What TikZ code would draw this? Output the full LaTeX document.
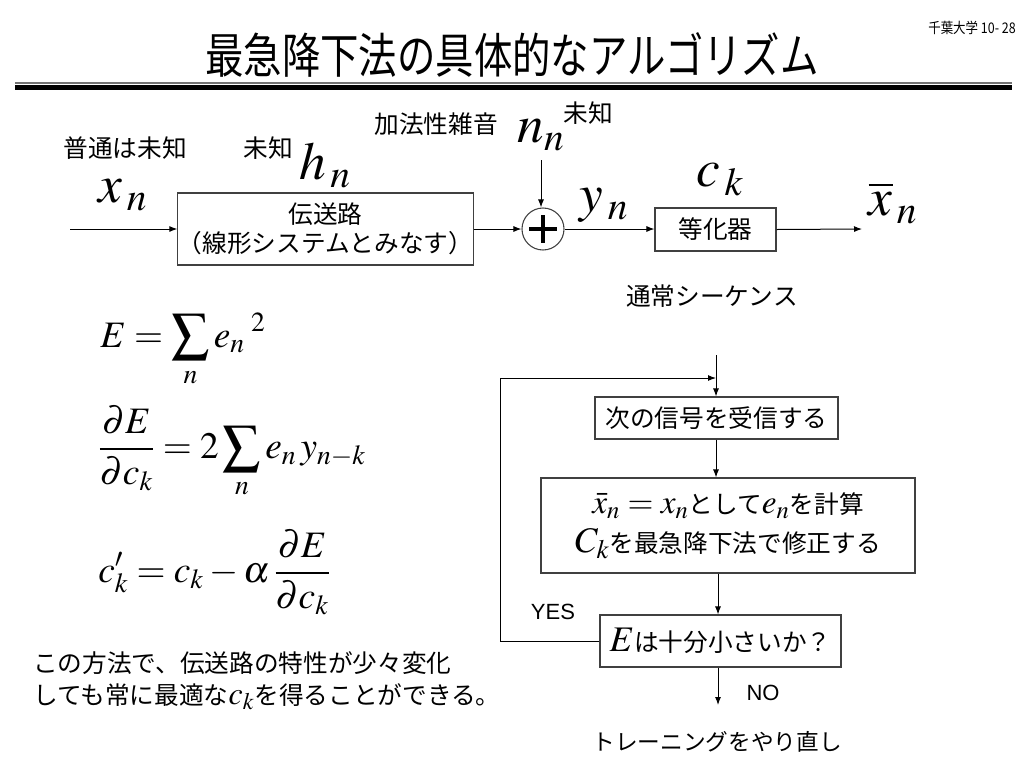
\documentclass[tikz,border=0pt]{standalone}
\usepackage{mathptmx}
\usepackage{fontspec}
\setmainfont{Liberation Sans}
\newfontfamily\jpf{Noto Sans CJK JP}
\usetikzlibrary{arrows.meta}
\newcommand\mymath[2]{{\fontsize{#1}{#1}\selectfont$#2$}}
\tikzset{
  jp/.style={font=\jpf\fontsize{18.5}{22}\selectfont, inner sep=0pt},
  bigm/.style={font=\fontsize{40}{48}\selectfont, inner sep=0pt},
  eqn/.style={font=\fontsize{28}{34}\selectfont, inner sep=0pt},
  box/.style={draw=black!75, line width=0.8pt, inner sep=0pt, font=\jpf\fontsize{18.5}{22}\selectfont, align=center},
  arr/.style={-{Latex[length=6pt,width=4.5pt]}, line width=0.75pt},
  ln/.style={line width=0.75pt}
}
\begin{document}
\begin{tikzpicture}[x=0.75pt,y=-0.75pt]
\useasboundingbox (0,0) rectangle (1024,768);
% header
\node[inner sep=0pt, font=\jpf\fontsize{11}{12}\selectfont] (page) at (972,28) {\scalebox{0.85}[1]{千葉大学 10- 28}};
\node[inner sep=0pt, font=\jpf\fontsize{36}{40}\selectfont] (title) at (512,55) {\scalebox{0.8}[1]{最急降下法の具体的なアルゴリズム}};
\draw[line width=1.5pt, black!55] (15,82.5) -- (1012,82.5);
\draw[line width=3.8pt] (15,87.5) -- (1012,87.5);

% block diagram labels
\node[jp] (l1) at (125,148) {普通は未知};
\node[jp] (l2) at (268,148) {未知};
\node[jp] (l3) at (436,124) {加法性雑音};
\node[jp] (l4) at (588,113) {未知};
\node[jp] (l5) at (712,296) {通常シーケンス};

\node[bigm] (xn) at (123,195) {$x_{\,n}$};
\node[bigm] (hn) at (325,165) {$h_{\,n}$};
\node[bigm] (nn) at (541,135) {$n_n$};
\node[bigm] (yn) at (604,205) {$y_{\,n}$};
\node[bigm] (ck) at (720,180) {$c_{\,k}$};
\node[bigm] (xb) at (893,203) {$\overline{x}_{\,n}$};

% blocks
\node[box, minimum width=213.75pt, minimum height=54pt] (ch) at (325.5,229) {伝送路\\（線形システムとみなす）};
\node[draw=black!75, line width=0.8pt, circle, minimum size=31.5pt, inner sep=0pt] (sum) at (543,229) {};
\draw[line width=2.4pt] (sum.center) ++(-14,0) -- ++(28,0);
\draw[line width=2.4pt] (sum.center) ++(0,-14) -- ++(0,28);
\node[box, minimum width=90.75pt, minimum height=32.25pt] (eq) at (715.5,229.5) {等化器};

\coordinate (in) at (70,229);
\coordinate (ntop) at (541,160);
\coordinate (out) at (862,229);
\draw[arr] (in) -- (ch.west);
\draw[arr] (ch.east) -- (sum.west);
\draw[arr] (ntop) -- (ntop |- sum.north);
\draw[arr] (sum.east) -- (sum.east -| eq.west);
\draw[arr] (eq.east) -- (out);

% equations
\node[eqn, anchor=base west] (e1) at (100,347) {$\displaystyle E=\sum_n e_n{}^{\;2}$};
\node[eqn, anchor=west] (e2) at (98,452) {$\displaystyle \frac{\partial E}{\partial c_k}=2\sum_n e_n\,y_{n-k}$};
\node[eqn, anchor=west] (e3) at (98,572) {$\displaystyle c'_k=c_k-\alpha\,\frac{\partial E}{\partial c_k}$};

% flowchart
\node[box, minimum width=182.25pt, minimum height=31.5pt] (b1) at (716.5,418) {次の信号を受信する};
\node[box, minimum width=280.5pt, minimum height=71.25pt, font=\jpf\fontsize{18.5}{29}\selectfont] (b2) at (728,525.5) {\mymath{25}{\bar{x}_n\;{=}\;x_n}として\mymath{25}{e_n}を計算\\\mymath{27}{C_k}を最急降下法で修正する};
\node[box, minimum width=180.75pt, minimum height=39pt] (b3) at (720.5,641) {\mymath{27}{E}は十分小さいか？};

\coordinate (top) at (716,355);
\coordinate (fb) at (500,378);
\coordinate (nend) at (718,705);
\draw[arr] (top) -- (b1.north -| top);
\draw[arr] (b1.south -| top) -- (b2.north -| top);
\draw[arr] (b2.south -| nend) -- (b3.north -| nend);
\draw[arr] (b3.south -| nend) -- (nend);
\draw[arr] (b3.west) -- (b3.west -| fb) -- (fb) -- (fb -| top);

\node[inner sep=0pt, font=\fontsize{16.5}{20}\selectfont] (yes) at (553,612) {YES};
\node[inner sep=0pt, font=\fontsize{16.5}{20}\selectfont] (no) at (763,693) {NO};
\node[jp, font=\jpf\fontsize{17}{20}\selectfont] (retry) at (717,742) {トレーニングをやり直し};

% bottom-left note
\node[jp, anchor=west] (n1) at (33,663) {この方法で、伝送路の特性が少々変化};
\node[jp, anchor=west] (n2) at (33,697) {しても常に最適な\mymath{24}{c_k}を得ることができる。};
\end{tikzpicture}
\end{document}
